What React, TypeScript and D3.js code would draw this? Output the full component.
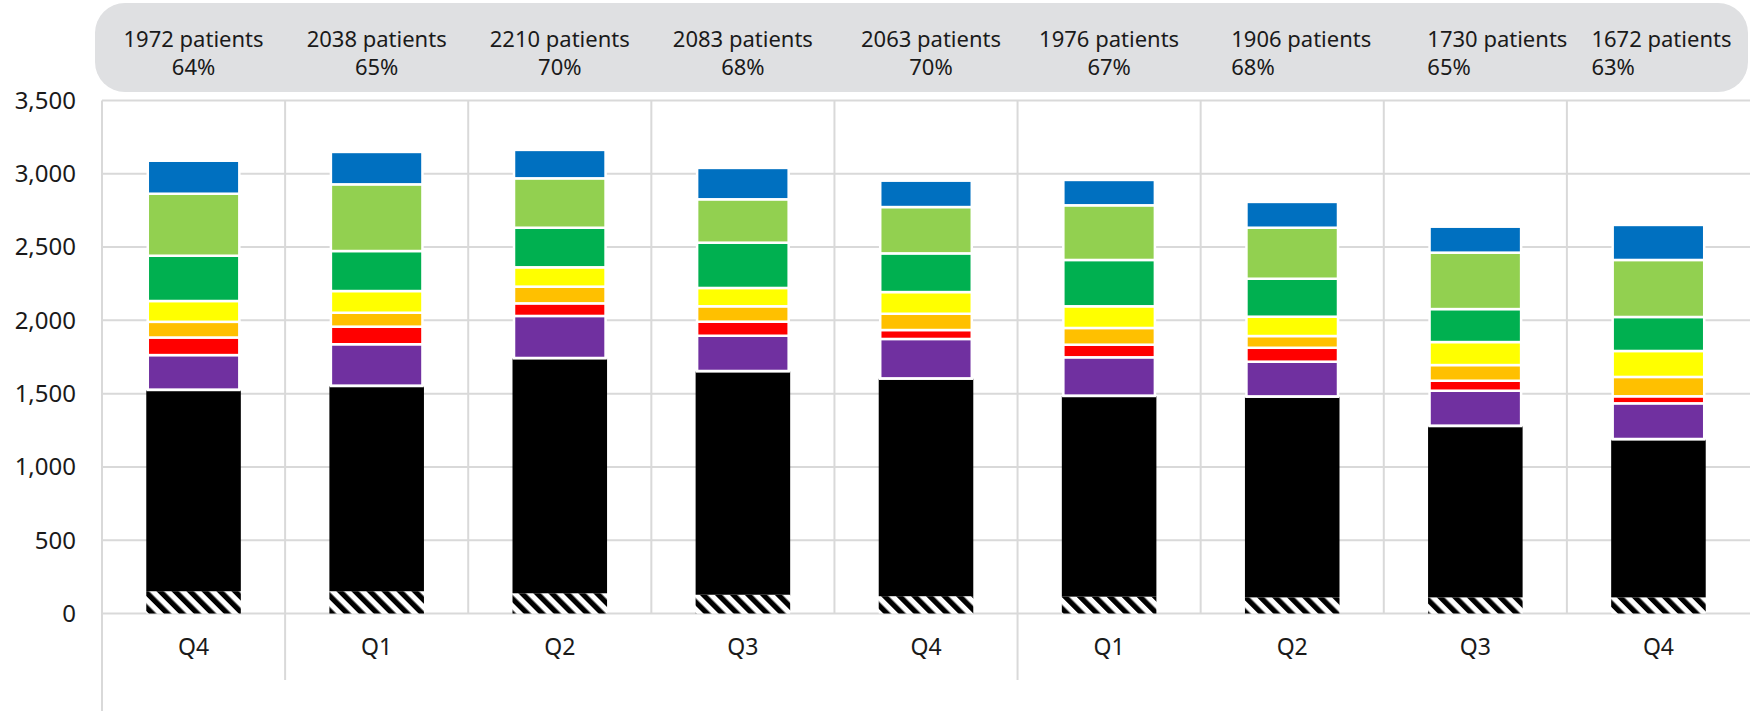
import React from "react";
import * as d3 from "d3";

// quarters on the x axis
const quarters = ["Q4", "Q1", "Q2", "Q3", "Q4", "Q1", "Q2", "Q3", "Q4"];

// banner above the bars
const patients = [1972, 2038, 2210, 2083, 2063, 1976, 1906, 1730, 1672];
const percents = [64, 65, 70, 68, 70, 67, 68, 65, 63];

// stacked series, bottom to top
const hatched = [152, 152, 138, 128, 118, 115, 110, 110, 110];
const black = [1373, 1400, 1603, 1524, 1484, 1369, 1369, 1169, 1078];
const purple = [238, 285, 289, 243, 271, 264, 239, 241, 246];
const red = [120, 120, 86, 96, 61, 86, 95, 68, 48];
const orange = [107, 95, 114, 105, 111, 114, 80, 107, 132];
const yellow = [142, 148, 132, 125, 148, 148, 132, 157, 177];
const green = [309, 273, 270, 309, 264, 316, 259, 225, 232];
const lightGreen = [423, 455, 337, 296, 316, 373, 348, 385, 389];
const blue = [225, 221, 194, 214, 180, 173, 176, 177, 239];

const yTicks = [0, 500, 1000, 1500, 2000, 2500, 3000, 3500];

const seriesKeys = ["hatched", "black", "purple", "red", "orange", "yellow", "green", "lightGreen", "blue"];
const seriesData = [hatched, black, purple, red, orange, yellow, green, lightGreen, blue];
const seriesColors = ["url(#hatch)", "#000000", "#7030a0", "#ff0000", "#ffc000", "#ffff00", "#00b050", "#92d050", "#0070c0"];

// the last three banner labels are left aligned in the original
const bannerShift = [0, 0, 0, 0, 5, 0, -61, -48, -67];

const FONT = "'Noto Sans', 'Open Sans', sans-serif";

export default class App extends React.Component {
  protected ref = React.createRef<HTMLDivElement>();

  componentDidMount() {
    this.buildChart();
  }

  buildChart() {
    const width = 1750;
    const height = 711;
    const left = 102;
    const right = 1750;
    const top = 100.5;
    const bottom = 613.5;

    const container = this.ref.current as HTMLDivElement;
    container.innerHTML = "";

    const svg = d3.select(container)
      .append("svg")
      .attr("width", width)
      .attr("height", height)
      .style("display", "block");

    const defs = svg.append("defs");
    const pattern = defs.append("pattern")
      .attr("id", "hatch")
      .attr("patternUnits", "userSpaceOnUse")
      .attr("width", 10.6)
      .attr("height", 10.6)
      .attr("patternTransform", "rotate(-45)");
    pattern.append("rect").attr("width", 10.6).attr("height", 10.6).attr("fill", "#fff");
    pattern.append("rect").attr("width", 5.3).attr("height", 10.6).attr("fill", "#000");

    const x = d3.scaleBand<number>()
      .domain(d3.range(quarters.length))
      .range([left, right])
      .paddingInner(0.5)
      .paddingOuter(0.25);
    const step = x.step();

    const y = d3.scaleLinear().domain([0, 3500]).range([bottom, top]);

    // banner
    svg.append("rect")
      .attr("x", 95)
      .attr("y", 3)
      .attr("width", 1653)
      .attr("height", 89)
      .attr("rx", 30)
      .attr("fill", "#dfe0e2");

    const banner = svg.append("g")
      .attr("font-family", FONT)
      .attr("font-size", 22)
      .attr("fill", "#1a1a1a");

    patients.forEach((p, i) => {
      const cx = (x(i) as number) + x.bandwidth() / 2 + bannerShift[i];
      const anchor = i >= 6 ? "start" : "middle";
      banner.append("text")
        .attr("x", cx)
        .attr("y", 47)
        .attr("text-anchor", anchor)
        .text(p + " patients");
      banner.append("text")
        .attr("x", cx)
        .attr("y", 75)
        .attr("text-anchor", anchor)
        .text(percents[i] + "%");
    });

    // grid
    const grid = svg.append("g")
      .attr("stroke", "#d9d9d9")
      .attr("stroke-width", 2);

    grid.selectAll("line.h")
      .data(yTicks)
      .join("line")
      .attr("x1", left)
      .attr("x2", right)
      .attr("y1", d => y(d))
      .attr("y2", d => y(d));

    grid.selectAll("line.v")
      .data(d3.range(1, quarters.length))
      .join("line")
      .attr("x1", i => left + step * i)
      .attr("x2", i => left + step * i)
      .attr("y1", top)
      .attr("y2", i => (i === 1 || i === 5) ? 680 : bottom);

    grid.append("line")
      .attr("x1", left)
      .attr("x2", left)
      .attr("y1", top)
      .attr("y2", height);

    // y labels
    svg.append("g")
      .attr("font-family", FONT)
      .attr("font-size", 24)
      .attr("fill", "#1a1a1a")
      .selectAll("text")
      .data(yTicks)
      .join("text")
      .attr("x", 76)
      .attr("y", d => y(d))
      .attr("dy", "0.35em")
      .attr("text-anchor", "end")
      .text(d => d3.format(",")(d));

    // x labels
    svg.append("g")
      .attr("font-family", FONT)
      .attr("font-size", 23)
      .attr("fill", "#1a1a1a")
      .selectAll("text")
      .data(quarters)
      .join("text")
      .attr("x", (d, i) => (x(i) as number) + x.bandwidth() / 2)
      .attr("y", 655)
      .attr("text-anchor", "middle")
      .text(d => d);

    // stacked bars
    const rows = quarters.map((q, i) => {
      const row: any = { index: i };
      seriesKeys.forEach((k, s) => { row[k] = seriesData[s][i]; });
      return row;
    });

    const stacked = d3.stack().keys(seriesKeys)(rows);

    stacked.forEach((layer, s) => {
      const wide = s < 2;
      svg.append("g")
        .selectAll("rect")
        .data(layer)
        .join("rect")
        .attr("x", (d: any) => (x(d.data.index) as number) - (wide ? 1.5 : 0))
        .attr("width", x.bandwidth() + (wide ? 3 : 0))
        .attr("y", d => y(d[1]))
        .attr("height", d => y(d[0]) - y(d[1]))
        .attr("fill", seriesColors[s])
        .attr("stroke", wide ? "none" : "#ffffff")
        .attr("stroke-width", 2.5);
    });

    // thin white gap between the black block and the hatched base
    svg.append("g")
      .selectAll("line")
      .data(stacked[1])
      .join("line")
      .attr("x1", (d: any) => (x(d.data.index) as number) - 1.5)
      .attr("x2", (d: any) => (x(d.data.index) as number) + x.bandwidth() + 1.5)
      .attr("y1", d => y(d[1]) - 0.5)
      .attr("y2", d => y(d[1]) - 0.5)
      .attr("stroke", "#ffffff")
      .attr("stroke-width", 2);
  }

  render() {
    return (
      <div ref={this.ref} style={{ position: "absolute", left: 0, top: 0 }}></div>
    );
  }
}
